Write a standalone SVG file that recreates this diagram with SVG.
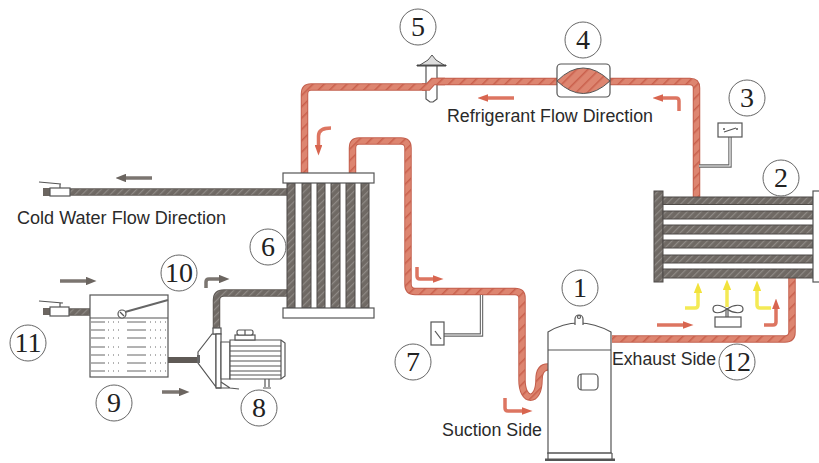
<svg xmlns="http://www.w3.org/2000/svg" width="819" height="463" viewBox="0 0 819 463">
<style>
.num{font-family:"Liberation Serif","Times New Roman",serif;font-size:28px;fill:#222;text-anchor:middle}
.lab{font-family:"Liberation Sans",Arial,sans-serif;font-size:17.5px;fill:#2a2a2a}
.ring{fill:#fff;stroke:#666;stroke-width:1}
.ln{fill:none;stroke:#555;stroke-width:1.2}
.box{fill:#fff;stroke:#555;stroke-width:1.2}
.pr{fill:none;stroke:#c4604e;stroke-width:7.5}
.pri{fill:none;stroke:url(#hr);stroke-width:5.5}
.pg{fill:none;stroke:#5f5a56;stroke-width:7.5}
.pgi{fill:none;stroke:url(#hg);stroke-width:5.5}
.tube{fill:url(#hg);stroke:#4f4b48;stroke-width:1}
.ar{fill:none;stroke:#dd7561;stroke-width:3.5;marker-end:url(#mr)}
.ag{fill:none;stroke:#7b7570;stroke-width:3.5;marker-end:url(#mg)}
.ay{fill:none;stroke:#f4ea55;stroke-width:3.5;marker-end:url(#my)}
.wire{fill:none;stroke:#666;stroke-width:3.4}
.wirei{fill:none;stroke:#fff;stroke-width:1.2}
</style>
<defs>
<pattern id="hr" width="8" height="8" patternUnits="userSpaceOnUse" patternTransform="rotate(45)"><rect width="8" height="8" fill="#dd8570"/><rect width="1.500" height="8" fill="#c9604c"/></pattern>
<pattern id="hg" width="5" height="5" patternUnits="userSpaceOnUse" patternTransform="rotate(45)"><rect width="5" height="5" fill="#6f6964"/><rect width="1.200" height="5" fill="#8f8a86"/></pattern>
<marker id="mr" markerWidth="3" markerHeight="2.200" refX="0" refY="1.100" orient="auto"><path d="M0,0L3,1.100L0,2.200z" fill="#d8654f"/></marker>
<marker id="mg" markerWidth="3" markerHeight="2.400" refX="0" refY="1.200" orient="auto"><path d="M0,0L3,1.200L0,2.400z" fill="#6b6560"/></marker>
<marker id="my" markerWidth="3" markerHeight="2.400" refX="0" refY="1.200" orient="auto"><path d="M0,0L3,1.200L0,2.400z" fill="#f2e23c"/></marker>
</defs>
<rect width="819" height="463" fill="#fff"/>
<g id="connectors">
<path class="pr" d="M304.5,176V94Q304.5,87 311,87H428L433,81.500H690Q696.500,81.500 696.500,88V198"/>
<path class="pri" d="M304.5,176V94Q304.5,87 311,87H428L433,81.500H690Q696.500,81.500 696.500,88V198"/>
<path class="pr" d="M352.500,176V148Q352.500,141 359,141H401Q408,141 408,148V284Q408,291.500 415,291.500H515Q522,291.500 522,298V380C522,403 539,403 539,380Q539,367 548,367"/>
<path class="pri" d="M352.500,176V148Q352.500,141 359,141H401Q408,141 408,148V284Q408,291.500 415,291.500H515Q522,291.500 522,298V380C522,403 539,403 539,380Q539,367 548,367"/>
<path class="pr" d="M612,339H785Q792,339 792,332V278"/>
<path class="pri" d="M612,339H785Q792,339 792,332V278"/>
<path class="pg" d="M70,192H288"/><path class="pgi" d="M70,192H288"/>
<path class="pg" d="M288,293H224Q216.500,293 216.500,300V329"/><path class="pgi" d="M288,293H224Q216.500,293 216.500,300V329"/>
<path class="pg" style="stroke-width:6" d="M168,360H198"/>
<path class="pg" d="M69,312H90"/><path class="pgi" d="M69,312H90"/>
<path class="wire" d="M481.500,295V335H444"/><path class="wirei" d="M481.500,295V335H444"/>
<path class="wire" d="M730,137V166H699"/><path class="wirei" d="M730,137V166H699"/>
</g>
<g id="flow-arrows">
<path class="ag" d="M152,178H126"/>
<path class="ag" d="M60,281H86"/>
<path class="ag" d="M206,288V282Q206,279 209,279H219"/>
<path class="ag" d="M162,392H179"/>
<path class="ar" d="M514,98H488"/>
<path class="ar" d="M679,111V101Q679,98 676,98H663"/>
<path class="ar" d="M331,128Q318.500,128 318.500,136V145"/>
<path class="ar" d="M417,267V276Q417,279 420,279H433"/>
<path class="ar" d="M505,398V408Q505,411 508,411H522"/>
<path class="ar" d="M657,325H683"/>
<path class="ar" d="M764,325H773Q776,325 776,322V309"/>
<path class="ay" d="M685,308H695Q698,308 698,305V293"/>
<path class="ay" d="M727,307V290"/>
<path class="ay" d="M771,308H760Q757,308 757,305V291"/>
</g>
<g id="node-1">
<path class="box" d="M548,350V332Q578,314 611,332V453H548z"/>
<path class="ln" d="M548,350H611"/>
<path class="box" d="M575,325V319A4,4 0 1 1 583,319V325"/>
<circle class="ln" cx="579" cy="317" r="1.500"/>
<path class="ln" d="M548,453V459M612,453V459M547,453H612"/>
<rect x="545" y="458.500" width="70" height="2.500" fill="#555"/>
<rect class="box" x="578" y="374" width="20" height="16" rx="4"/>
<path class="ln" d="M581,374V390"/>
<circle class="ring" cx="580" cy="288" r="18"/><text class="num" x="580" y="297">1</text>
</g>
<g id="node-2">
<rect x="654" y="191" width="9" height="91" class="tube"/>
<rect x="663" y="197" width="150" height="7.500" class="tube"/>
<rect x="663" y="211" width="150" height="8" class="tube"/>
<rect x="663" y="225" width="150" height="9" class="tube"/>
<rect x="663" y="240" width="150" height="8" class="tube"/>
<rect x="663" y="255" width="150" height="8" class="tube"/>
<rect x="663" y="269" width="150" height="9" class="tube"/>
<rect class="box" x="813" y="191" width="8" height="91"/>
<circle class="ring" cx="781" cy="178" r="18"/><text class="num" x="781" y="187">2</text>
</g>
<g id="node-3">
<rect class="box" x="718" y="123" width="24" height="14"/>
<path class="ln" d="M724,132L736,128"/>
<circle cx="724" cy="129" r="1" fill="#555"/><circle cx="737" cy="129" r="1" fill="#555"/>
<circle class="ring" cx="747" cy="98" r="18"/><text class="num" x="747" y="107">3</text>
</g>
<g id="node-4">
<rect class="box" x="557" y="64" width="53" height="33" rx="4"/>
<path d="M557,81Q583,55 610,81Q583,106 557,81z" fill="url(#hr)" stroke="#555"/>
<circle class="ring" cx="583" cy="40" r="18"/><text class="num" x="583" y="49">4</text>
</g>
<g id="node-5">
<path class="box" d="M426,65H437V99L433,102H430L426,99z"/>
<path d="M417,65H446V66H417z" fill="#444" stroke="#444"/>
<path d="M420,65L428,60L432,55L436,60L444,65z" fill="#ddd" stroke="#555"/>
<path class="pr" d="M422,87H428L433,81.500H445"/><path class="pri" d="M422,87H428L433,81.500H445"/>
<circle class="ring" cx="418" cy="27" r="18"/><text class="num" x="418" y="36">5</text>
</g>
<g id="node-6">
<rect class="tube" x="287" y="183" width="8" height="125"/>
<rect class="tube" x="302" y="183" width="9" height="125"/>
<rect class="tube" x="317" y="183" width="8" height="125"/>
<rect class="tube" x="331" y="183" width="9" height="125"/>
<rect class="tube" x="346" y="183" width="9" height="125"/>
<rect class="tube" x="361" y="183" width="8" height="125"/>
<rect class="box" x="283" y="173" width="91" height="10"/>
<rect class="box" x="283" y="308" width="91" height="10"/>
<circle class="ring" cx="268" cy="247" r="18"/><text class="num" x="268" y="256">6</text>
</g>
<g id="node-7">
<rect class="box" x="431" y="322" width="13" height="23"/>
<path class="ln" d="M435,331L441,339"/>
<circle class="ring" cx="413" cy="362" r="18"/><text class="num" x="413" y="371">7</text>
</g>
<g id="node-8">
<path class="box" d="M198,352L212,334H216V387L198,363z"/>
<rect x="197" y="355" width="3" height="8" fill="#666"/>
<rect class="box" x="213" y="328" width="8" height="6"/>
<rect class="box" x="216" y="334" width="5" height="54"/>
<path class="box" d="M221,342H230V379H221z"/>
<path class="ln" d="M221,382L230,388L239,389M216,388H230"/>
<path class="box" d="M230,340H281L285,343V376L281,379H230z"/>
<path class="ln" d="M281,340V379M230,346H281M230,351H281M230,356H281M230,361H281M230,366H281M230,371H281M230,375H281"/>
<rect class="box" x="235" y="335" width="20" height="5"/>
<rect class="box" x="237" y="330" width="16" height="5" rx="2"/>
<path class="ln" d="M245,330V335M265,379V387M269,379V387M263,388H271"/>
<circle class="ring" cx="259" cy="408" r="18"/><text class="num" x="259" y="417">8</text>
</g>
<g id="node-9">
<rect class="box" x="90" y="295" width="78" height="82"/>
<path class="ln" d="M90,318H168"/>
<g stroke="#666" fill="none" stroke-width="1">
<path d="M91,322H105M127,322H146M91,330H105M127,330H146M91,338H105M127,338H146M91,347H105M127,347H146M91,355H105M127,355H146M91,363H105M127,363H146M91,371H105M127,371H146"/>
<path stroke-dasharray="1 4" d="M108,322H123M150,322H166M108,330H123M150,330H166M108,338H123M150,338H166M108,347H123M150,347H166M108,355H123M150,355H166M108,363H123M150,363H166M108,371H123M150,371H166"/>
</g>
<path fill="none" stroke="#666" stroke-width="2" d="M125,312L168,300"/>
<circle class="box" cx="122" cy="314" r="4"/>
<path class="ln" d="M120,312L124,316"/>
<circle class="ring" cx="114" cy="403" r="18"/><text class="num" x="114" y="412">9</text>
</g>
<g id="node-10">
<circle class="ring" cx="179" cy="273" r="18"/><text class="num" x="179" y="282">10</text>
</g>
<g id="node-11">
<rect x="43" y="308" width="7" height="7" fill="#6b6560"/>
<rect class="box" x="50" y="307" width="19" height="9"/>
<path class="ln" d="M39,301L63,303M60,303V307"/>
<circle class="ring" cx="28" cy="343" r="18"/><text class="num" x="28" y="352">11</text>
</g>
<g id="node-12">
<circle class="ring" cx="737" cy="362" r="18"/><text class="num" x="737" y="371">12</text>
</g>
<g id="fan">
<rect class="box" x="715" y="317" width="26" height="10"/>
<path class="ln" d="M728,308V317M726,308V317"/>
<path class="box" d="M727,309C720,304 713,304 713,309C713,314 720,314 727,309C734,304 743,304 743,309C743,314 734,314 727,309z"/>
</g>
<g id="valve-top">
<rect x="43" y="188" width="7" height="8" fill="#6b6560"/>
<rect class="box" x="50" y="188" width="20" height="8"/>
<path class="ln" d="M39,182L61,184M60,184V188"/>
</g>
<g id="labels">
<text class="lab" x="17" y="224" textLength="209" lengthAdjust="spacingAndGlyphs">Cold Water Flow Direction</text>
<text class="lab" x="447" y="122" textLength="206" lengthAdjust="spacingAndGlyphs">Refrigerant Flow Direction</text>
<text class="lab" x="612" y="365" textLength="104" lengthAdjust="spacingAndGlyphs">Exhaust Side</text>
<text class="lab" x="442" y="436" textLength="100" lengthAdjust="spacingAndGlyphs">Suction Side</text>
</g>
</svg>
